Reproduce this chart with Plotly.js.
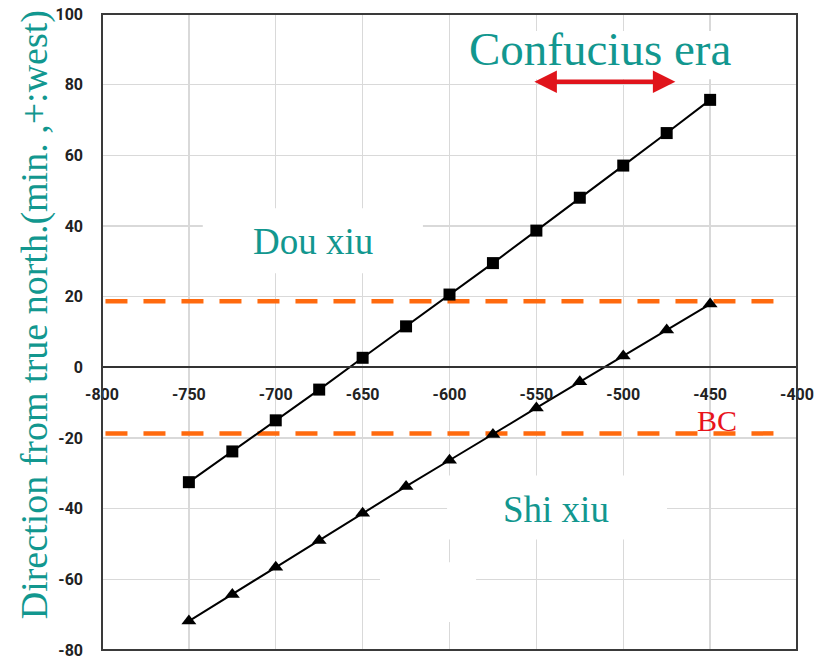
<!DOCTYPE html>
<html>
<head>
<meta charset="utf-8">
<script src="https://cdn.plot.ly/plotly-3.0.1.min.js"></script>
<style>
  html, body { margin: 0; padding: 0; background: #fff; }
  #chart { width: 825px; height: 661px; }
</style>
</head>
<body>
<div id="chart"></div>
<script>
// Years BC (negative) sampled every 25 years
const years = [-750, -725, -700, -675, -650, -625, -600, -575, -550, -525, -500, -475, -450];
// Direction from true north (minutes of arc, + = west)
const douXiu = [-32.5, -23.8, -15.0, -6.3, 2.7, 11.6, 20.6, 29.5, 38.7, 48.0, 57.1, 66.3, 75.7];
const shiXiu = [-71.8, -64.3, -56.6, -49.0, -41.3, -33.7, -26.3, -19.0, -11.5, -4.1, 3.2, 10.6, 17.9];
// Tolerance band and the Confucius era span
const tolerance = [18.7, -18.7];
const confuciusEra = [-552, -470];
const arrowLevel = 80.8;
const xTicks = [-800, -750, -700, -650, -600, -550, -500, -450, -400];
const yTicks = [-80, -60, -40, -20, 0, 20, 40, 60, 80, 100];

const teal = '#12978f';
const serif = 'Liberation Serif, Times New Roman, serif';

const traces = [
  {
    x: years, y: douXiu, type: 'scatter', mode: 'lines+markers', name: 'Dou xiu',
    line: { color: '#000', width: 2 },
    marker: { symbol: 'square', size: 12, color: '#000' }
  },
  {
    x: years, y: shiXiu, type: 'scatter', mode: 'lines+markers', name: 'Shi xiu',
    line: { color: '#000', width: 2 },
    marker: { symbol: 'triangle-up', size: 13, color: '#000' }
  }
];

// White label boxes that sit over the grid
const whiteBoxes = [
  [-742, 26.6, -615.3, 45],
  [-601.4, -48.7, -474.8, -30.6],
  [-640, -72.1, -584.7, -55.2],
  [-575, 81.5, -425, 95.2]
];

const shapes = whiteBoxes.map(b => ({
  type: 'rect', xref: 'x', yref: 'y', x0: b[0], y0: b[1], x1: b[2], y1: b[3],
  fillcolor: '#fff', line: { width: 0 }, layer: 'between'
}));

tolerance.forEach(v => shapes.push({
  type: 'line', xref: 'x', yref: 'y', x0: -798, x1: -406, y0: v, y1: v,
  line: { color: '#ff6a0e', width: 4.5, dash: '22px,16px' }, layer: 'between'
}));

// Plot frame
shapes.push({
  type: 'rect', xref: 'paper', yref: 'paper', x0: 0, y0: 0, x1: 1, y1: 1,
  line: { color: '#3a3a3a', width: 2 }, fillcolor: 'rgba(0,0,0,0)', layer: 'above'
});

const annotations = [
  {
    x: confuciusEra[1], y: arrowLevel, ax: confuciusEra[0], ay: arrowLevel,
    xref: 'x', yref: 'y', axref: 'x', ayref: 'y', text: '',
    showarrow: true, arrowside: 'end+start', arrowhead: 2, arrowsize: 1,
    arrowwidth: 4.5, arrowcolor: '#e0141b'
  },
  {
    x: -513.4, y: 90.1, xref: 'x', yref: 'y', text: 'Confucius era', showarrow: false,
    font: { family: serif, size: 47, color: teal }
  },
  {
    x: -678.6, y: 35.7, xref: 'x', yref: 'y', text: 'Dou xiu', showarrow: false,
    font: { family: serif, size: 37, color: teal }
  },
  {
    x: -538.7, y: -40.2, xref: 'x', yref: 'y', text: 'Shi xiu', showarrow: false,
    font: { family: serif, size: 37, color: teal }
  },
  {
    x: -446, y: -15.0, xref: 'x', yref: 'y', text: 'BC', showarrow: false,
    font: { family: serif, size: 30, color: '#e8141b' }
  },
  {
    x: -0.131, y: 0.527, xref: 'paper', yref: 'paper', textangle: -90,
    text: 'Direction from true north.(min. ,+:west)', showarrow: false,
    font: { family: serif, size: 38, color: teal }
  }
];

const tickFont = { family: 'Roboto, sans-serif', size: 16, color: '#222', weight: 'bold' };

const layout = {
  width: 825, height: 661,
  margin: { l: 102, r: 28, t: 14, b: 11 },
  paper_bgcolor: '#fff', plot_bgcolor: '#fff',
  showlegend: false,
  xaxis: {
    range: [-800, -400], tickvals: xTicks, ticktext: xTicks.map(String),
    anchor: 'free', position: 80 / 180, side: 'bottom',
    showline: true, linecolor: '#333', linewidth: 2,
    showgrid: true, gridcolor: '#d9d9d9', gridwidth: 1.3,
    zeroline: false, ticks: '', tickfont: tickFont, ticklabelstandoff: 12,
    ticklabeloverflow: 'allow'
  },
  yaxis: {
    range: [-80, 100], tickvals: yTicks, ticktext: yTicks.map(String),
    showline: false, showgrid: true, gridcolor: '#d9d9d9', gridwidth: 1.3,
    zeroline: false, ticks: '', tickfont: tickFont, ticklabelstandoff: 18,
    ticklabeloverflow: 'allow'
  },
  shapes: shapes,
  annotations: annotations
};

Plotly.newPlot('chart', traces, layout, { staticPlot: true, displayModeBar: false });
</script>
</body>
</html>
